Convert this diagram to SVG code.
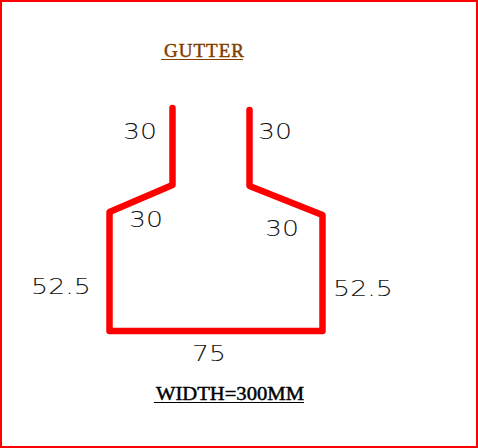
<svg xmlns="http://www.w3.org/2000/svg" width="478" height="448" viewBox="0 0 478 448">
<style>
.dim{font-family:"DejaVu Sans","Liberation Sans",sans-serif;font-weight:200;font-size:22px;fill:#111}
.title{font-family:"Liberation Serif","DejaVu Serif",serif;font-size:19px;stroke-width:.45px}
.profile{fill:none;stroke:#f00;stroke-width:6.500;stroke-linecap:round;stroke-linejoin:round}
</style>
<rect x="1" y="1" width="476" height="446" fill="#fff" stroke="#f00" stroke-width="2"/>
<g id="gutter-profile">
<path class="profile" d="M172.500 108V185L109.500 212V331H322.500V215L249.500 186V110"/>
</g>
<g id="labels">
<text class="dim" x="123" y="139" textLength="34" lengthAdjust="spacingAndGlyphs">30</text>
<text class="dim" x="258" y="139" textLength="34" lengthAdjust="spacingAndGlyphs">30</text>
<text class="dim" x="129" y="227" textLength="34" lengthAdjust="spacingAndGlyphs">30</text>
<text class="dim" x="265" y="236" textLength="34" lengthAdjust="spacingAndGlyphs">30</text>
<text class="dim" x="31" y="294" textLength="60" lengthAdjust="spacingAndGlyphs">52.5</text>
<text class="dim" x="333" y="296" textLength="60" lengthAdjust="spacingAndGlyphs">52.5</text>
<text class="dim" x="192" y="361" textLength="34" lengthAdjust="spacingAndGlyphs">75</text>
</g>
<g id="title">
<text class="title" x="164" y="57" fill="#7f4000" stroke="#7f4000" textLength="80" lengthAdjust="spacing">GUTTER</text>
<line x1="161" y1="59.500" x2="243" y2="59.500" stroke="#7f4000"/>
</g>
<g id="width-note">
<text class="title" x="156" y="400" fill="#000" stroke="#000" textLength="148" lengthAdjust="spacingAndGlyphs">WIDTH=300MM</text>
<line x1="154" y1="402.500" x2="304" y2="402.500" stroke="#000"/>
</g>
</svg>
